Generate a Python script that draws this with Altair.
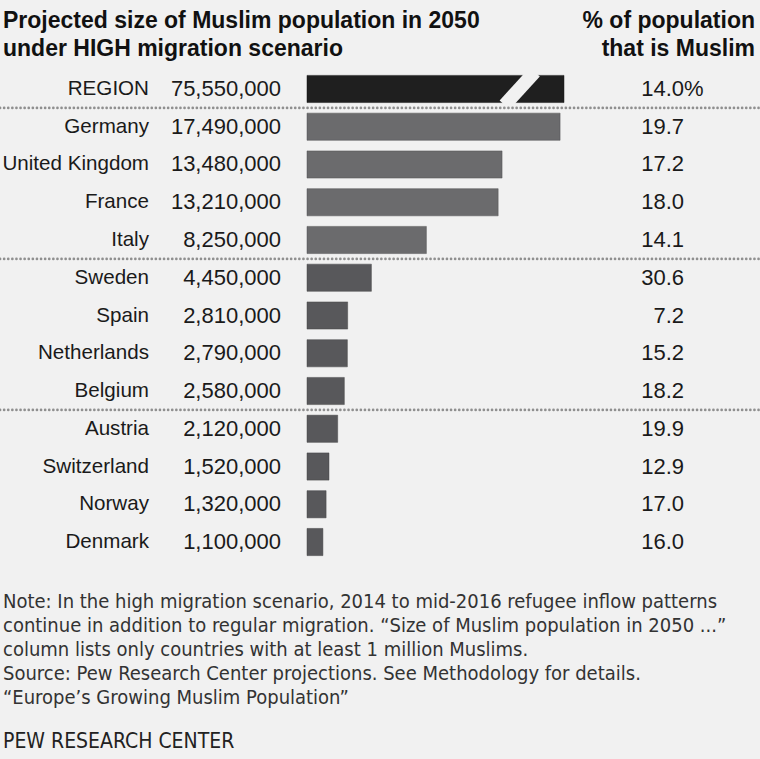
import altair as alt
import pandas as pd

countries = ["REGION", "Germany", "United Kingdom", "France", "Italy", "Sweden", "Spain",
             "Netherlands", "Belgium", "Austria", "Switzerland", "Norway", "Denmark"]
populations = [75550000, 17490000, 13480000, 13210000, 8250000, 4450000, 2810000,
               2790000, 2580000, 2120000, 1520000, 1320000, 1100000]
shares = [14.0, 19.7, 17.2, 18.0, 14.1, 30.6, 7.2, 15.2, 18.2, 19.9, 12.9, 17.0, 16.0]
groups = ["region", "large", "large", "large", "large", "small", "small", "small", "small",
          "small", "small", "small", "small"]
separator_after = ["REGION", "Italy", "Belgium"]

title_lines = ["Projected size of Muslim population in 2050", "under HIGH migration scenario"]
right_header = ["% of population", "that is Muslim"]
note_lines = [
    "Note: In the high migration scenario, 2014 to mid-2016 refugee inflow patterns",
    "continue in addition to regular migration. \u201cSize of Muslim population in 2050 ...\u201d",
    "column lists only countries with at least 1 million Muslims.",
    "Source: Pew Research Center projections. See Methodology for details.",
    "\u201cEurope\u2019s Growing Muslim Population\u201d",
]
credit = "PEW RESEARCH CENTER"

BREAK_CAP = 17.76e6          # region bar is drawn broken at this length
BREAK_LO, BREAK_HI = 13.66e6, 15.74e6

BG = "#f1f1f1"
FONT = "Liberation Sans"
NARROW = "DejaVu Sans Condensed, sans-serif"

df = pd.DataFrame({"country": countries, "pop": populations, "share": shares, "group": groups})

xscale = alt.Scale(domain=[0, 20e6], range=[307, 596.4])
yscale = alt.Scale(domain=countries, range=[70.1, 560.9], paddingInner=0.28, paddingOuter=0.14)
Y = alt.Y("country:N", scale=yscale, axis=None)

base = alt.Chart(df)

bars = base.transform_calculate(
    shown=f"min(datum.pop, {BREAK_CAP})"
).mark_bar(strokeWidth=0.8, strokeOpacity=0.6).encode(
    x=alt.X("shown:Q", scale=xscale, axis=None),
    y=Y,
    color=alt.Color("group:N", scale=alt.Scale(domain=["region", "large", "small"],
                                               range=["#1f1f1f", "#6b6b6d", "#58585b"]), legend=None),
    stroke=alt.Stroke("group:N", scale=alt.Scale(domain=["region", "large", "small"],
                                                 range=["#111111", "#4e4e50", "#444446"]), legend=None),
)

brk = alt.Chart(pd.DataFrame({"lo": [BREAK_LO], "hi": [BREAK_HI]})).mark_rule(
    color=BG, strokeWidth=13.7
).encode(
    x=alt.X("lo:Q", scale=xscale, axis=None), x2="hi:Q",
    y=alt.value(105), y2=alt.value(72),
)

labels = base.mark_text(align="right", baseline="middle", font=FONT, fontSize=20.6, color="#1a1a1a").encode(
    x=alt.value(149), y=Y, text="country:N")
nums = base.mark_text(align="right", baseline="middle", font=FONT, fontSize=22, color="#1a1a1a").encode(
    x=alt.value(281), y=Y, text=alt.Text("pop:Q", format=","))
pcts = base.mark_text(align="right", baseline="middle", font=FONT, fontSize=22, color="#1a1a1a").encode(
    x=alt.value(684), y=Y, text=alt.Text("share:Q", format=".1f"))
pct_sign = base.transform_filter(alt.datum.group == "region").mark_text(
    align="left", baseline="middle", font=FONT, fontSize=22, color="#1a1a1a").encode(
    x=alt.value(684), y=Y, text=alt.value("%"))

seps = base.transform_filter(
    alt.FieldOneOfPredicate(field="country", oneOf=separator_after)
).mark_rule(color="#8f8f8f", strokeWidth=2.6, strokeDash=[0.1, 4], strokeCap="round", yOffset=18.9).encode(
    y=Y, x=alt.value(0), x2=alt.value(760))

title = alt.Chart(pd.DataFrame({"t": [0]})).mark_text(
    align="left", baseline="top", font=FONT, fontSize=23, fontWeight="bold", color="#111111", lineHeight=28
).encode(x=alt.value(3), y=alt.value(10), text=alt.value(title_lines))

header = alt.Chart(pd.DataFrame({"t": [0]})).mark_text(
    align="right", baseline="top", font=FONT, fontSize=23, fontWeight="bold", color="#111111", lineHeight=28
).encode(x=alt.value(755), y=alt.value(10), text=alt.value(right_header))

notes = alt.Chart(pd.DataFrame({"t": [0]})).mark_text(
    align="left", baseline="top", font=NARROW, fontSize=20, color="#333333", lineHeight=24
).encode(x=alt.value(3), y=alt.value(592), text=alt.value(note_lines))

cred = alt.Chart(pd.DataFrame({"t": [0]})).mark_text(
    align="left", baseline="middle", font=NARROW, fontSize=21, color="#222222"
).encode(x=alt.value(3), y=alt.value(742), text=alt.value(credit))

chart = alt.layer(bars, brk, seps, labels, nums, pcts, pct_sign, title, header, notes, cred).properties(
    width=760, height=759, autosize=alt.AutoSizeParams(type="none"), padding=0, background=BG
).configure_view(stroke=None)

chart.save("out.html", embed_options={"renderer": "svg", "actions": False})
